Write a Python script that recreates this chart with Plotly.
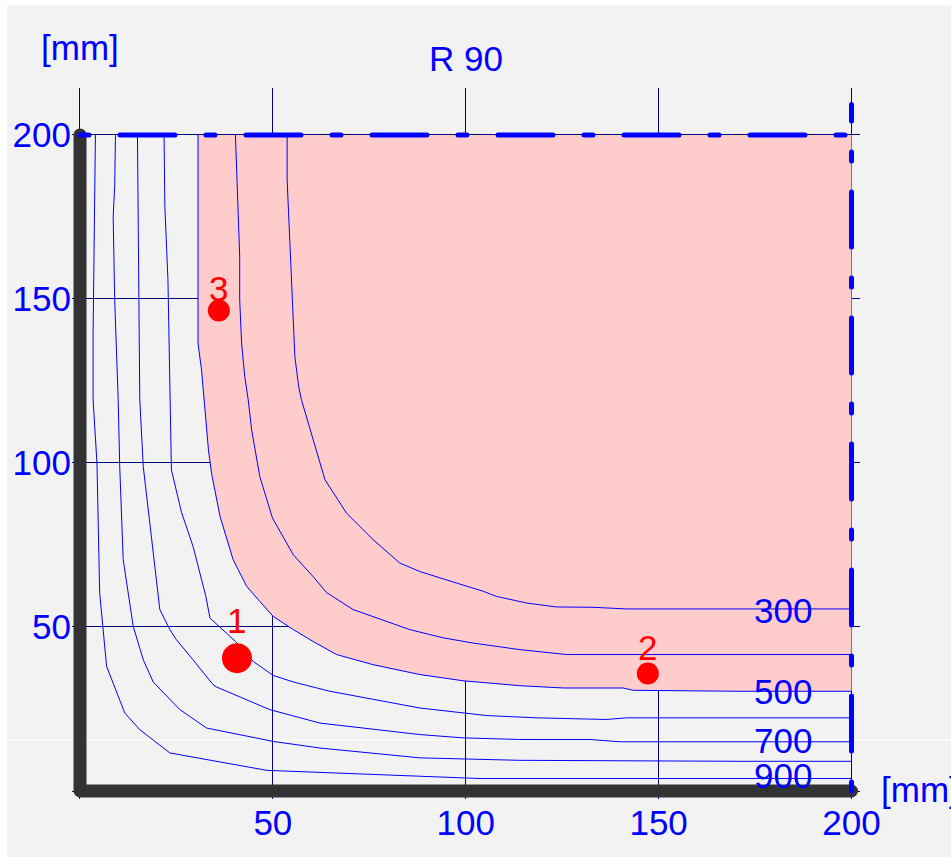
import plotly.graph_objects as go

# ---------------- data (mm) ----------------
plate = 200            # plate edge (symmetry lines / supports)
sym_top = 209.3        # upper end of the vertical symmetry line
levels = [300, 400, 500, 600, 700, 800, 900]

c300_x = [53.7, 53.7, 55.7, 56.7, 57.4, 61.1, 63.5, 69.1, 76.0, 82.9, 88.1, 97.6, 104.5, 108.0, 115.8, 123.5, 133.0, 141.7, 171.1, 200]
c300_y = [200, 186.3, 132.4, 123.2, 119.3, 104.0, 94.9, 84.7, 76.6, 69.5, 66.9, 63.4, 60.9, 59.3, 57.3, 56.1, 56.0, 55.5, 55.5, 55.5]

c400_x = [40.3, 40.7, 41.4, 41.4, 41.9, 42.7, 43.6, 44.5, 46.6, 49.9, 55.3, 60.4, 63.9, 70.8, 85.5, 94.1, 101.9, 114.0, 126.1, 200]
c400_y = [200, 186.3, 162.9, 149.7, 136.5, 126.4, 119.3, 110.1, 95.9, 83.2, 72.0, 65.4, 60.5, 55.3, 49.2, 46.7, 45.1, 43.1, 41.6, 41.6]

c500_x = [30.6, 30.6, 31.5, 32.4, 33.3, 34.1, 36.3, 39.7, 43.2, 46.6, 50.1, 55.3, 60.4, 66.5, 76.0, 88.1, 99.3, 114.0, 125.3, 140.8, 143.4, 171.1, 200]
c500_y = [200, 136.5, 128.4, 116.2, 104.0, 96.9, 83.7, 70.5, 62.4, 57.8, 53.2, 49.2, 45.6, 41.6, 38.5, 35.5, 33.6, 32.1, 31.4, 31.4, 30.7, 30.4, 30.4]

c600_x = [21.8, 22.0, 22.8, 23.3, 23.7, 26.3, 29.3, 32.6, 33.7, 40.3, 44.9, 50.1, 55.7, 64.8, 74.3, 88.1, 105.4, 118.4, 136.5, 141.7, 200]
c600_y = [200, 178.2, 155.8, 119.3, 97.9, 85.0, 74.6, 59.5, 52.7, 45.6, 39.5, 35.2, 33.1, 30.4, 28.4, 25.3, 23.0, 22.3, 21.8, 22.3, 22.3]

c700_x = [14.9, 15.1, 15.5, 16.4, 20.7, 23.3, 25.0, 29.3, 34.5, 35.4, 49.2, 62.2, 88.1, 99.3, 114.0, 132.2, 140.0, 200]
c700_y = [200, 170.1, 119.3, 98.9, 55.3, 49.2, 46.1, 40.0, 32.4, 31.7, 24.8, 20.7, 17.2, 16.2, 15.7, 15.7, 15.0, 15.0]

c800_x = [9.2, 9.0, 8.6, 9.0, 9.9, 10.3, 11.2, 13.8, 16.4, 19.0, 25.9, 32.8, 50.1, 62.2, 88.1, 114.0, 171.1, 200]
c800_y = [200, 184.3, 175.1, 149.7, 119.3, 98.9, 70.5, 50.2, 40.0, 33.2, 24.8, 19.2, 15.1, 13.1, 10.1, 9.35, 9.05, 9.05]

c900_x = [4.0, 3.4, 3.4, 4.4, 5.1, 6.9, 11.6, 15.5, 23.3, 48.4, 88.1, 103.7, 200]
c900_y = [200, 139.6, 119.3, 100.0, 60.4, 38.0, 23.8, 18.7, 11.6, 6.3, 4.5, 3.8, 3.8]

label_levels = [300, 500, 700, 900]
label_x = 182.2

point_names = ["1", "2", "3"]
point_x = [40.7, 147.2, 36.0]
point_y = [40.5, 35.8, 146.5]

x_ticks = [0, 50, 100, 150, 200]
x_ticktext = ["", "50", "100", "150", "200"]
y_ticks = [0, 50, 100, 150, 200]
y_ticktext = ["", "50", "100", "150", "200"]

axis_unit = "[mm]"
title_text = "R 90"

contours = {
    300: (c300_x, c300_y), 400: (c400_x, c400_y), 500: (c500_x, c500_y),
    600: (c600_x, c600_y), 700: (c700_x, c700_y), 800: (c800_x, c800_y),
    900: (c900_x, c900_y),
}

# ---------------- style / layout ----------------
W, H = 951, 858
ML, MR, MT, MB = 72, 91, 88, 59
XR = [-2.07, 202.2]
YR = [-2.44, 214.3]
PW, PH = W - ML - MR, H - MT - MB

BLUE = "#0000ff"
NAVY = "#000080"
RED = "#ff0000"
PINK = "#ffcccc"
BAR = "#333333"
BG = "#f2f2f2"
FONT = "Liberation Sans, Arial, sans-serif"
FS = 35

point_sizes = [30, 22, 22]
point_label_shift = [38, 26, 22]
level_label_shift = {300: -2, 500: 0, 700: 1, 900: 3}


def xp(v):  # data x -> paper fraction
    return (v - XR[0]) / (XR[1] - XR[0])


def yp(v):  # data y -> paper fraction
    return (v - YR[0]) / (YR[1] - YR[0])


def pxp(px):  # pixel x -> paper
    return (px - ML) / PW


def pyp(py):  # pixel y -> paper
    return 1 - (py - MT) / PH


fig = go.Figure()

# pink region (above the 500 contour)
fig.add_trace(go.Scatter(
    x=c500_x + [plate], y=c500_y + [plate], mode="lines", fill="toself",
    fillcolor=PINK, line=dict(width=0, color=PINK), hoverinfo="skip"))

# contour lines
for lv in levels:
    cx, cy = contours[lv]
    fig.add_trace(go.Scatter(x=cx, y=cy, mode="lines",
                             line=dict(color=BLUE, width=1), hoverinfo="skip"))

# supports (thick L)
fig.add_trace(go.Scatter(x=[0, 0, plate], y=[plate, 0, 0], mode="lines",
                         line=dict(color=BAR, width=13), hoverinfo="skip"))

# symmetry lines (dash-dot)
dd = "9px,31px,55px,31px"
fig.add_trace(go.Scatter(x=[0, plate], y=[plate, plate], mode="lines",
                         line=dict(color=BLUE, width=5, dash=dd), hoverinfo="skip"))
fig.add_trace(go.Scatter(x=[plate, plate], y=[0, sym_top], mode="lines",
                         line=dict(color=BLUE, width=5, dash=dd), hoverinfo="skip"))

# points
fig.add_trace(go.Scatter(x=point_x, y=point_y, mode="markers",
                         marker=dict(color=RED, size=point_sizes, opacity=1,
                                     line=dict(width=0)),
                         hoverinfo="skip", cliponaxis=False))

ann = []
for lv in label_levels:
    cx, cy = contours[lv]
    ann.append(dict(x=label_x, y=cy[-1], xref="x", yref="y", text=str(lv),
                    showarrow=False, xanchor="center", yanchor="middle",
                    yshift=level_label_shift[lv],
                    font=dict(family=FONT, size=FS, color=BLUE)))
for name, x, y, sh in zip(point_names, point_x, point_y, point_label_shift):
    ann.append(dict(x=x, y=y, xref="x", yref="y", text=name, showarrow=False,
                    xanchor="center", yanchor="middle", yshift=sh,
                    font=dict(family=FONT, size=FS, color=RED)))
ann.append(dict(x=xp(100), y=yp(223.4), xref="paper", yref="paper", text=title_text,
                showarrow=False, xanchor="center", yanchor="middle",
                font=dict(family=FONT, size=FS, color=BLUE)))
ann.append(dict(x=xp(0), y=yp(226.6), xref="paper", yref="paper", text=axis_unit,
                showarrow=False, xanchor="center", yanchor="middle",
                font=dict(family=FONT, size=FS, color=BLUE)))
ann.append(dict(x=xp(207.0), y=yp(0.5), xref="paper", yref="paper", text=axis_unit,
                showarrow=False, xanchor="left", yanchor="middle",
                font=dict(family=FONT, size=FS, color=BLUE)))

shapes = [
    dict(type="rect", xref="paper", yref="paper", x0=pxp(7), x1=pxp(W + 5),
         y0=pyp(857), y1=pyp(5), fillcolor=BG, line=dict(width=0), layer="below"),
    dict(type="line", xref="paper", yref="paper", x0=pxp(7), x1=pxp(W + 5),
         y0=pyp(740), y1=pyp(740), line=dict(color="white", width=1), layer="below"),
]

axis_common = dict(showgrid=True, gridcolor=NAVY, gridwidth=1, zeroline=False,
                   showline=False, ticks="", fixedrange=True,
                   tickfont=dict(family=FONT, size=FS, color=BLUE))

fig.update_layout(
    width=W, height=H, margin=dict(l=ML, r=MR, t=MT, b=MB, pad=0, autoexpand=False),
    paper_bgcolor="white", plot_bgcolor=BG, showlegend=False,
    xaxis=dict(range=XR, tickvals=x_ticks, ticktext=x_ticktext, **axis_common),
    yaxis=dict(range=YR, tickvals=y_ticks, ticktext=y_ticktext, **axis_common),
    annotations=ann, shapes=shapes,
)

post = ("var s=document.createElement('style');"
        "s.innerHTML='.scatterlayer .js-line{stroke-linecap:round;stroke-linejoin:round;}';"
        "document.head.appendChild(s);")
fig.write_html("out.html", config={"displayModeBar": False}, post_script=post)
